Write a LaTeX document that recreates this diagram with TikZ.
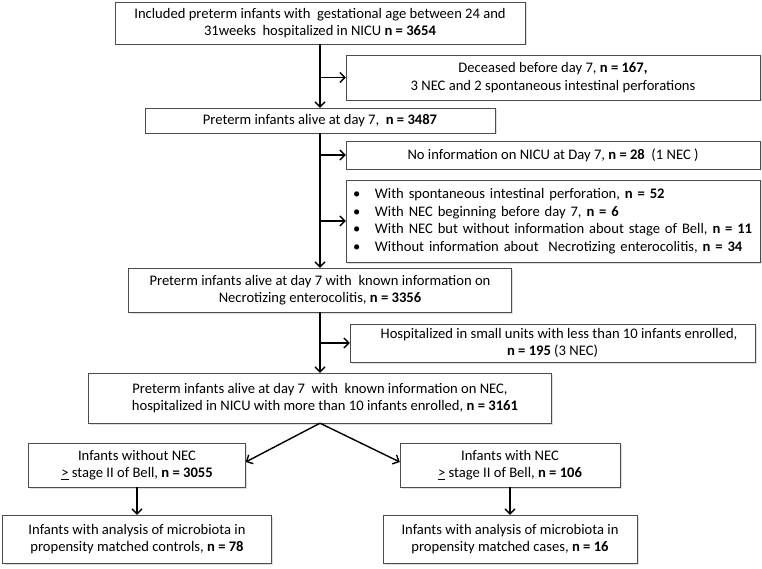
\documentclass[tikz,border=0pt]{standalone}
\usepackage{fontspec}
\setmainfont{Carlito}
\usetikzlibrary{arrows.meta,shadows}

\begin{document}
\begin{tikzpicture}[x=1pt, y=-1pt,
    box/.style={draw=black!70, fill=white, align=center, inner sep=1pt,
      drop shadow={opacity=0.25, shadow xshift=1.5pt, shadow yshift=-1.5pt},
      font=\fontsize{14.6}{17.5}\selectfont},
    arr/.style={-{Straight Barb[length=5pt, width=10pt]}, line width=1.4pt}]

  \useasboundingbox (0,0) rectangle (762,569);

  % main column
  \node[box, minimum width=410pt, minimum height=42pt] (incl) at (320,23)
    {Included preterm infants with\ \ gestational age between 24 and\\31weeks\ \ hospitalized in NICU \textbf{n = 3654}};
  \node[box, minimum width=350pt, minimum height=25pt] (alive) at (320,120.5)
    {Preterm infants alive at day 7,\ \ \textbf{n = 3487}};
  \node[box, minimum width=383pt, minimum height=44pt] (known) at (320,290)
    {Preterm infants alive at day 7 with\ \ known information on\\Necrotizing enterocolitis, \textbf{n = 3356}};
  \node[box, minimum width=463pt, minimum height=50pt] (net) at (320,398)
    {Preterm infants alive at day 7\ \ with\ \ known information on NEC,\\\ \ \ hospitalized in NICU with more than 10 infants enrolled, \textbf{n = 3161}};

  % exclusions
  \node[box, minimum width=414pt, minimum height=45pt] (dec) at (553,77.5)
    {Deceased before day 7, \textbf{n = 167,}\\3 NEC and 2 spontaneous intestinal perforations};
  \node[box, minimum width=414pt, minimum height=28pt] (noinfo) at (553,155)
    {No information on NICU at Day 7, \textbf{n = 28}\ \ (1 NEC )};
  \node[box, minimum width=414pt, minimum height=82pt, align=left, text width=400pt] (excl) at (553,221)
    {\mbox{\makebox[22pt][l]{\textbullet}With spontaneous intestinal perforation, \textbf{n = 52}}\\
     \mbox{\makebox[22pt][l]{\textbullet}With NEC beginning before day 7, \textbf{n = 6}}\\
     \mbox{\makebox[22pt][l]{\textbullet}With NEC but without information about stage of Bell, \textbf{n = 11}}\\
     \mbox{\makebox[22pt][l]{\textbullet}Without information about\ \ Necrotizing enterocolitis, \textbf{n = 34}}};
  \node[box, minimum width=405pt, minimum height=38pt] (small) at (552.5,343)
    {\ \ \ \ Hospitalized in small units with less than 10 infants enrolled,\\\textbf{n = 195} (3 NEC)};

  % groups
  \node[box, minimum width=217pt, minimum height=44pt] (wo) at (137,465)
    {Infants without NEC\\\underline{>} stage II of Bell, \textbf{n = 3055}};
  \node[box, minimum width=220pt, minimum height=44pt] (wn) at (510,465)
    {Infants with NEC\\\underline{>} stage II of Bell, \textbf{n = 106}};
  \node[box, minimum width=269pt, minimum height=48pt] (mc) at (137,539)
    {Infants with analysis of microbiota in\\propensity matched controls, \textbf{n = 78}};
  \node[box, minimum width=254pt, minimum height=48pt] (mk) at (510,539)
    {Infants with analysis of microbiota in\\propensity matched cases, \textbf{n = 16}};

  % connectors
  \draw[arr] (incl) -- (alive);
  \draw[arr] (incl.south |- dec.west) -- (dec.west);
  \draw[arr] (alive) -- (known);
  \draw[arr] (alive.south |- noinfo.west) -- (noinfo.west);
  \draw[arr] (alive.south |- excl.west) -- (excl.west);
  \draw[arr] (known) -- (net);
  \draw[arr] (known.south |- small.west) -- (small.west);
  \draw[arr] (net.south) -- ([yshift=3pt]wo.east);
  \draw[arr] (net.south) -- ([yshift=3pt]wn.west);
  \draw[arr] (wo) -- (mc);
  \draw[arr] (wn) -- (mk);
\end{tikzpicture}
\end{document}
